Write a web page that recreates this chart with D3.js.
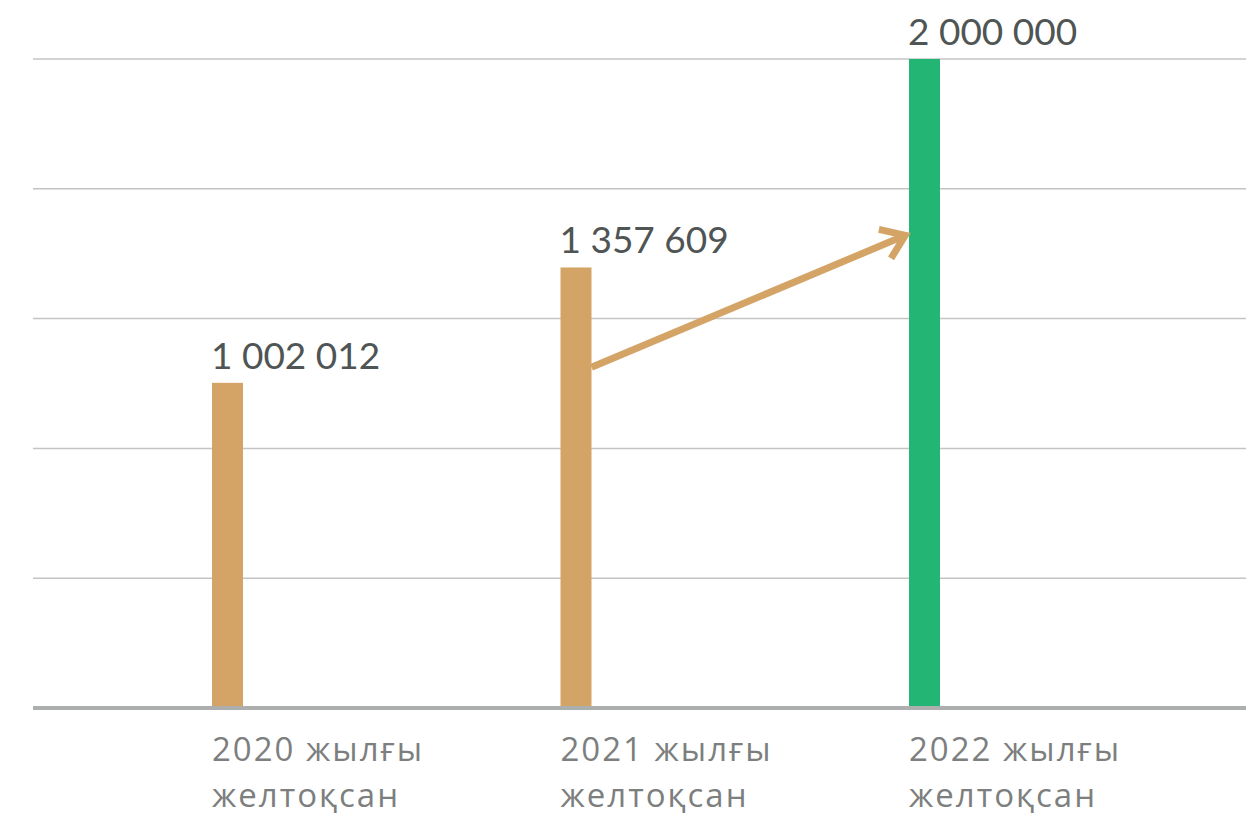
<!DOCTYPE html>
<html>
<head>
<meta charset="utf-8">
<script src="https://cdn.jsdelivr.net/npm/d3@7"></script>
<style>
  html, body { margin: 0; padding: 0; background: #ffffff; }
  svg { display: block; }
</style>
</head>
<body>
<svg id="chart" width="1246" height="818"></svg>
<script>
// Year-end values (December of each year)
const years = ["2020", "2021", "2022"];
const values = [1002012, 1357609, 2000000];
const valueLabels = ["1 002 012", "1 357 609", "2 000 000"];
const labelLine1 = ["2020 жылғы", "2021 жылғы", "2022 жылғы"];
const labelLine2 = ["желтоқсан", "желтоқсан", "желтоқсан"];
const barColors = ["#d4a467", "#d4a467", "#23b574"];
const gridValues = [400000, 800000, 1200000, 1600000, 2000000];
// Growth arrow: from the 2021 bar to the 2022 bar, in value units
const arrowFrom = { year: "2021", value: 1050000 };
const arrowTo = { year: "2022", value: 1460000 };

(function () {
  const plotLeft = 33, plotRight = 1246, plotBase = 708, plotTop = 59;
  const barW = 31;

  const svg = d3.select("#chart");

  const x = d3.scalePoint().domain(years).range([212, 909]);
  const y = d3.scaleLinear().domain([0, 2000000]).range([plotBase, plotTop]);

  // horizontal gridlines
  svg.append("g").selectAll("line")
    .data(gridValues)
    .join("line")
    .attr("x1", plotLeft).attr("x2", plotRight)
    .attr("y1", d => y(d)).attr("y2", d => y(d))
    .attr("stroke", "#c4c4c4")
    .attr("stroke-width", 1.5);

  // bars
  svg.append("g").selectAll("rect")
    .data(years)
    .join("rect")
    .attr("x", d => x(d))
    .attr("width", barW)
    .attr("y", (d, i) => y(values[i]))
    .attr("height", (d, i) => plotBase + 1 - y(values[i]))
    .attr("fill", (d, i) => barColors[i]);

  // baseline
  svg.append("line")
    .attr("x1", plotLeft).attr("x2", plotRight)
    .attr("y1", plotBase).attr("y2", plotBase)
    .attr("stroke", "#adafaf")
    .attr("stroke-width", 4);

  // value labels
  svg.append("g").selectAll("text")
    .data(years)
    .join("text")
    .attr("x", d => x(d) - 1)
    .attr("y", (d, i) => y(values[i]) - 14)
    .attr("font-family", "Lato, 'Open Sans', sans-serif")
    .attr("font-size", 37)
    .attr("fill", "#4f5454")
    .text((d, i) => valueLabels[i]);

  // category labels (two lines)
  const cat = svg.append("g").selectAll("text")
    .data(years)
    .join("text")
    .attr("font-family", "'Open Sans', 'Noto Sans', sans-serif")
    .attr("font-size", 33)
    .attr("letter-spacing", 2)
    .attr("fill", "#7d7f7f");
  cat.append("tspan")
    .attr("x", d => x(d))
    .attr("y", 761)
    .text((d, i) => labelLine1[i]);
  cat.append("tspan")
    .attr("x", d => x(d))
    .attr("y", 807)
    .text((d, i) => labelLine2[i]);

  // growth arrow
  const ax1 = x(arrowFrom.year) + barW, ay1 = y(arrowFrom.value);
  const ax2 = x(arrowTo.year) - 1, ay2 = y(arrowTo.value);
  const ang = Math.atan2(ay2 - ay1, ax2 - ax1);
  const headLen = 27, headAng = 0.62;
  const g = svg.append("g").attr("stroke", "#d4a467").attr("fill", "none")
    .attr("stroke-width", 7);
  g.append("line")
    .attr("x1", ax1).attr("y1", ay1)
    .attr("x2", ax2 - 4 * Math.cos(ang)).attr("y2", ay2 - 4 * Math.sin(ang));
  const tipX = ax2 - 3 * Math.cos(ang), tipY = ay2 - 3 * Math.sin(ang);
  g.append("path")
    .attr("stroke-linejoin", "miter")
    .attr("d", d3.line()([
      [tipX - headLen * Math.cos(ang - headAng), tipY - headLen * Math.sin(ang - headAng)],
      [tipX, tipY],
      [tipX - headLen * Math.cos(ang + headAng), tipY - headLen * Math.sin(ang + headAng)]
    ]));
})();
</script>
</body>
</html>
